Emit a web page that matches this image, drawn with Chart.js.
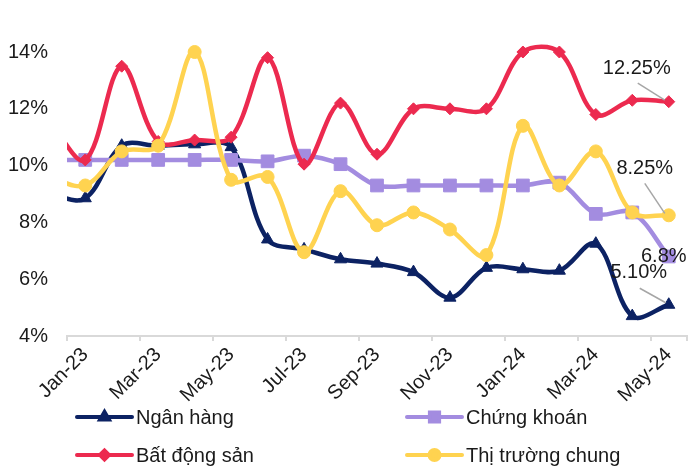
<!DOCTYPE html>
<html>
<head>
<meta charset="utf-8">
<script src="https://cdn.jsdelivr.net/npm/chart.js@4.4.1/dist/chart.umd.min.js"></script>
<style>
  html, body { margin: 0; padding: 0; background: #ffffff; }
  #wrap { width: 691px; height: 468px; position: relative; }
</style>
</head>
<body>
<div id="wrap"><canvas id="chart" width="691" height="468"></canvas></div>
<script>
// Monthly rates (%). Dec-22 only feeds the line entering the left edge.
const months = ['Dec-22', 'Jan-23', 'Feb-23', 'Mar-23', 'Apr-23', 'May-23', 'Jun-23', 'Jul-23', 'Aug-23',
  'Sep-23', 'Oct-23', 'Nov-23', 'Dec-23', 'Jan-24', 'Feb-24', 'Mar-24', 'Apr-24', 'May-24'];
const firstShown = 'Jan-23';

const nganHang    = [9.0, 8.85, 10.7, 10.7, 10.75, 10.65, 7.4, 7.05, 6.7, 6.55, 6.25, 5.35, 6.4, 6.35, 6.3, 7.25, 4.7, 5.10];
const chungKhoan  = [10.2, 10.2, 10.2, 10.2, 10.2, 10.2, 10.15, 10.35, 10.05, 9.3, 9.3, 9.3, 9.3, 9.3, 9.4, 8.3, 8.35, 6.8];
const batDongSan  = [11.6, 10.2, 13.5, 10.85, 10.9, 11.0, 13.8, 10.05, 12.2, 10.4, 12.0, 12.0, 12.0, 14.0, 14.0, 11.8, 12.3, 12.25];
const thiTruong   = [9.6, 9.3, 10.5, 10.7, 14.0, 9.5, 9.6, 6.95, 9.1, 7.9, 8.35, 7.75, 6.85, 11.4, 9.3, 10.5, 8.35, 8.25];

const seriesNames = ['Ngân hàng', 'Chứng khoán', 'Bất động sản', 'Thị trường chung'];
const yTicks = [4, 6, 8, 10, 12, 14];
// decimals used when printing the last value of each series
const endDecimals = [2, 1, 2, 2];

const FONT = "'Liberation Sans', Arial, sans-serif";
const TEXT = '#1a1a1a';
const AXIS = '#d9d9d9';

const styles = [
  { color: '#0c2263', point: 'triangle', r: 7,   legendR: 5,   order: 4 },
  { color: '#a38ce0', point: 'rect',     r: 9,   legendR: 6.5, order: 3 },
  { color: '#ec2a4f', point: 'rectRot',  r: 6,   legendR: 4.5, order: 2 },
  { color: '#ffd350', point: 'circle',   r: 6.5, legendR: 5,   order: 1 }
];
const values = [nganHang, chungKhoan, batDongSan, thiTruong];

// placement of the end-value labels, relative to the last point
const endLabelPlacement = [
  { dx: -30, dy: -32, leader: [-29, -16.5, -3, -2] },
  { dx: -5,  dy: 0,   leader: null },
  { dx: -32, dy: -33, leader: [-31, -18.5, -4, -1.5] },
  { dx: -24, dy: -47, leader: [-24, -32, -4, -2] }
];

const datasets = values.map((data, i) => ({
  label: seriesNames[i],
  data: data,
  borderColor: styles[i].color,
  backgroundColor: styles[i].color,
  pointBackgroundColor: styles[i].color,
  pointBorderColor: styles[i].color,
  pointBorderWidth: 1,
  pointStyle: styles[i].point,
  pointRadius: styles[i].r,
  pointHoverRadius: styles[i].r,
  borderWidth: 4.5,
  borderCapStyle: 'round',
  borderJoinStyle: 'round',
  tension: 0.35,
  order: styles[i].order,
  clip: { left: 0, top: false, right: false, bottom: false }
}));

// Two-column legend drawn under the axis labels
const gridLegend = {
  id: 'gridLegend',
  afterDraw(chart) {
    const ctx = chart.ctx;
    const cols = [77, 407];
    const rows = [417, 455];
    const lineLen = 55;
    chart.data.datasets.forEach((ds, i) => {
      const x = cols[i % 2];
      const y = rows[Math.floor(i / 2)];
      ctx.save();
      ctx.strokeStyle = ds.borderColor;
      ctx.lineWidth = 4;
      ctx.lineCap = 'round';
      ctx.beginPath();
      ctx.moveTo(x, y);
      ctx.lineTo(x + lineLen, y);
      ctx.stroke();
      ctx.fillStyle = ds.borderColor;
      ctx.strokeStyle = ds.borderColor;
      Chart.helpers.drawPoint(ctx, { pointStyle: ds.pointStyle, radius: styles[i].legendR, borderWidth: 1, rotation: 0 }, x + lineLen / 2, y);
      ctx.fillStyle = TEXT;
      ctx.font = '20px ' + FONT;
      ctx.textAlign = 'left';
      ctx.textBaseline = 'middle';
      ctx.fillText(ds.label, x + lineLen + 4, y + 1);
      ctx.restore();
    });
  }
};

// Value labels at the end of each line, with grey leader lines
const endLabels = {
  id: 'endLabels',
  afterDatasetsDraw(chart) {
    const ctx = chart.ctx;
    chart.data.datasets.forEach((ds, i) => {
      const meta = chart.getDatasetMeta(i);
      const last = meta.data[meta.data.length - 1];
      const v = ds.data[ds.data.length - 1];
      const place = endLabelPlacement[i];
      ctx.save();
      if (place.leader) {
        const [x1, y1, x2, y2] = place.leader;
        ctx.strokeStyle = '#a6a6a6';
        ctx.lineWidth = 1.5;
        ctx.beginPath();
        ctx.moveTo(last.x + x1, last.y + y1);
        ctx.lineTo(last.x + x2, last.y + y2);
        ctx.stroke();
      }
      ctx.fillStyle = TEXT;
      ctx.font = '20px ' + FONT;
      ctx.textAlign = 'center';
      ctx.textBaseline = 'middle';
      ctx.fillText(v.toFixed(endDecimals[i]) + '%', last.x + place.dx, last.y + place.dy);
      ctx.restore();
    });
  }
};

new Chart(document.getElementById('chart'), {
  type: 'line',
  data: { labels: months, datasets: datasets },
  plugins: [gridLegend, endLabels],
  options: {
    responsive: false,
    animation: false,
    devicePixelRatio: 1,
    layout: { autoPadding: false, padding: { top: 52, right: 4, left: 0, bottom: 0 } },
    elements: { line: { capBezierPoints: false } },
    plugins: {
      legend: { display: false },
      tooltip: { enabled: false }
    },
    scales: {
      x: {
        type: 'category',
        min: firstShown,
        offset: true,
        grid: {
          display: true,
          drawOnChartArea: false,
          drawTicks: true,
          tickLength: 5,
          offset: true,
          tickWidth: 2,
          lineWidth: 2,
          color: AXIS,
          tickColor: (c) => (c.index === undefined || c.index % 2 === 0) ? AXIS : 'rgba(0,0,0,0)'
        },
        border: { display: true, color: AXIS, width: 2 },
        ticks: {
          autoSkip: false,
          minRotation: 45,
          maxRotation: 45,
          padding: 2,
          color: TEXT,
          font: { family: FONT, size: 20 },
          callback: function (value, index) {
            return index % 2 === 0 ? this.getLabelForValue(value) : '';
          }
        },
        afterFit(scale) {
          scale.height = 132;
          scale.paddingLeft = 0;
          scale.paddingRight = 0;
        }
      },
      y: {
        min: yTicks[0],
        max: yTicks[yTicks.length - 1],
        afterBuildTicks(scale) { scale.ticks = yTicks.map(v => ({ value: v })); },
        ticks: {
          padding: 19,
          color: TEXT,
          font: { family: FONT, size: 20 },
          callback: (v) => v + '%'
        },
        grid: { display: false, drawTicks: false },
        border: { display: false },
        afterFit(scale) { scale.width = 67; }
      }
    }
  }
});
</script>
</body>
</html>
